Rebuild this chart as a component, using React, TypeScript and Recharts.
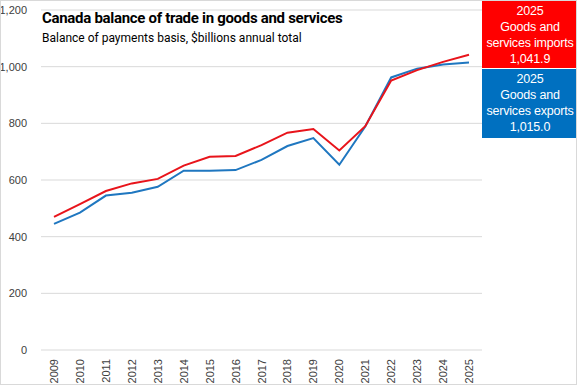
import { LineChart, Line, XAxis, YAxis, CartesianGrid } from "recharts";

const years = [
  "2009", "2010", "2011", "2012", "2013", "2014", "2015", "2016", "2017",
  "2018", "2019", "2020", "2021", "2022", "2023", "2024", "2025",
];
const imports = [470, 515, 561, 588, 604, 651, 682, 685, 723, 767, 780, 704, 790, 951, 988, 1017, 1041.9];
const exports = [445, 485, 545, 555, 576, 633, 633, 635, 671, 720, 748, 654, 789, 962, 993, 1008, 1015.0];
const yTicks = [0, 200, 400, 600, 800, 1000, 1200];

const chartData = years.map((year, i) => ({
  year,
  imports: imports[i],
  exports: exports[i],
}));

const fmt = (v: number) => v.toLocaleString("en-US");
const fmt1 = (v: number) => v.toLocaleString("en-US", { minimumFractionDigits: 1, maximumFractionDigits: 1 });

const YearTick = ({ x, y, payload }: any) => (
  <text
    x={x}
    y={y}
    dy={4}
    transform={`rotate(-90, ${x}, ${y})`}
    textAnchor="end"
    fill="#404040"
    fontSize={11}
    fontFamily="Liberation Sans, Arial, sans-serif"
  >
    {payload.value}
  </text>
);

const boxStyle = {
  position: "absolute" as const,
  left: 481,
  width: 96,
  color: "#fff",
  textAlign: "center" as const,
  fontFamily: "Liberation Sans, Arial, sans-serif",
  fontSize: 12.5,
  letterSpacing: -0.2,
  lineHeight: "16px",
  boxSizing: "border-box" as const,
  whiteSpace: "nowrap" as const,
};

export default function App() {
  return (
    <div
      style={{
        position: "relative",
        width: 577,
        height: 385,
        background: "#fff",
        border: "1px solid #d9d9d9",
        boxSizing: "border-box",
        overflow: "hidden",
      }}
    >
      <style>{`body{margin:0}`}</style>
      <div style={{ position: "absolute", left: -1, top: -1 }}>
        <LineChart
          width={577}
          height={385}
          data={chartData}
          margin={{ top: 10, right: 95, left: 0, bottom: 0 }}
        >
          <CartesianGrid vertical={false} stroke="#d9d9d9" />
          <XAxis
            dataKey="year"
            interval={0}
            height={35}
            padding={{ left: 13, right: 13 }}
            tickLine={false}
            axisLine={false}
            tick={<YearTick />}
            tickMargin={3}
          />
          <YAxis
            domain={[0, 1200]}
            ticks={yTicks}
            width={41}
            tickLine={false}
            axisLine={false}
            tickMargin={8}
            tickFormatter={fmt}
            tick={{ fill: "#404040", fontSize: 11, fontFamily: "Liberation Sans, Arial, sans-serif" }}
          />
          <Line
            dataKey="exports"
            stroke="#1f77c0"
            strokeWidth={2}
            dot={false}
            isAnimationActive={false}
          />
          <Line
            dataKey="imports"
            stroke="#e8141b"
            strokeWidth={2}
            dot={false}
            isAnimationActive={false}
          />
        </LineChart>
      </div>
      <div
        style={{
          position: "absolute",
          left: 41,
          top: 8,
          fontFamily: "Roboto, sans-serif",
          fontWeight: 700,
          fontSize: 15,
          color: "#000",
          letterSpacing: -0.3,
        }}
      >
        Canada balance of trade in goods and services
      </div>
      <div
        style={{
          position: "absolute",
          left: 41,
          top: 30,
          fontFamily: "Roboto, sans-serif",
          fontSize: 12,
          color: "#000",
        }}
      >
        Balance of payments basis, $billions annual total
      </div>
      <div style={{ ...boxStyle, top: -1, height: 68, paddingTop: 3, background: "#ff0000" }}>
        {years[16]}
        <br />
        Goods and
        <br />
        services imports
        <br />
        {fmt1(imports[16])}
      </div>
      <div style={{ ...boxStyle, top: 68, height: 69, paddingTop: 2, background: "#0070c0" }}>
        {years[16]}
        <br />
        Goods and
        <br />
        services exports
        <br />
        {fmt1(exports[16])}
      </div>
    </div>
  );
}
